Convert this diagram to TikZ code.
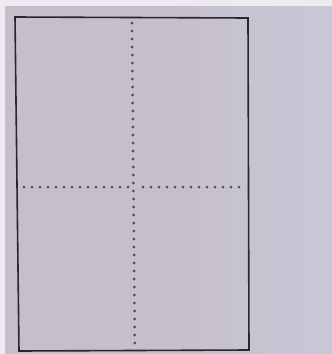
\documentclass[tikz,border=0pt]{standalone}
\begin{document}
\begin{tikzpicture}[x=1pt,y=-1pt,
  dotmark/.style={fill=dotgray,draw=none},
  frame/.style={draw=framegray,line width=1.6pt}]
\definecolor{bgpaper}{RGB}{198,190,202}
\definecolor{bgright}{RGB}{200,200,214}
\definecolor{framegray}{RGB}{40,38,46}
\definecolor{dotgray}{RGB}{78,76,88}
\definecolor{edgewhite}{RGB}{236,236,240}
\useasboundingbox (0,0) rectangle (332,354);
\fill[bgpaper] (0,0) rectangle (332,354);
\shade[left color=bgpaper,right color=bgright] (150,0) rectangle (332,354);
\fill[edgewhite] (0,0) rectangle (332,6);
\fill[edgewhite] (0,0) rectangle (5,354);
\draw[frame] (15,17) -- (248,18) -- (249,350) -- (19,351) -- cycle;
\foreach \i in {0,...,40} {
  \fill[dotmark] ({132+\i*0.07},{23+\i*8}) circle (1.5);
}
\foreach \i in {0,...,13} {
  \fill[dotmark] ({24+\i*8},187) circle (1.5);
}
\foreach \i in {0,...,12} {
  \fill[dotmark] ({143+\i*8},187) circle (1.5);
}
\end{tikzpicture}
\end{document}
